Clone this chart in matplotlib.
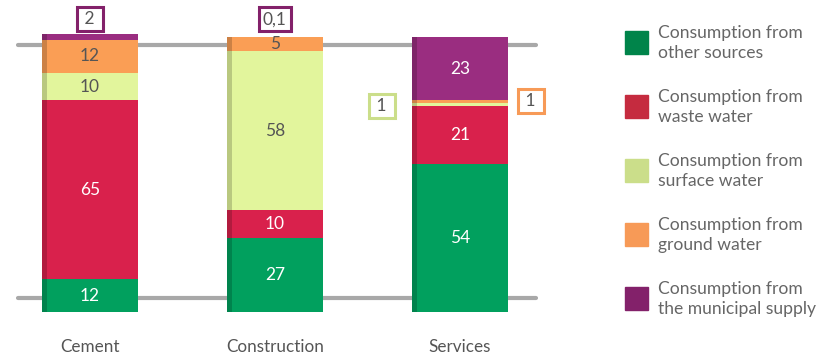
import matplotlib.pyplot as plt

plt.rcParams['font.family'] = ['Lato', 'DejaVu Sans']

sectores = ['Cement', 'Construction', 'Services']
otras = [12, 27, 54]
residual = [65, 10, 21]
superficial = [10, 58, 1]
subterranea = [12, 5, 1]
municipal = [2, 0.1, 23]

series = [otras, residual, superficial, subterranea, municipal]
colores_barra = ['#01A05E', '#D9214C', '#E2F59C', '#FA9E55', '#9A2D80']
colores_leyenda = ['#00844A', '#C52B3F', '#CBDE8A', '#F79A57', '#83216A']
color_texto = ['white', 'white', '#555555', '#555555', 'white']
leyenda = ['Consumption from\nother sources', 'Consumption from\nwaste water',
           'Consumption from\nsurface water', 'Consumption from\nground water',
           'Consumption from\nthe municipal supply']

fig = plt.figure(figsize=(8.29, 3.56), dpi=100)
ax = fig.add_axes([0, 0, 600 / 829, 1])
ax.set_xlim(-0.486, 2.757)
ax.set_ylim(-16, 113.5)
ax.axis('off')

# lineas grises tipo suelo/techo
for yy in [5, 97]:
    ax.plot([-0.39, 2.41], [yy, yy], color='#A8A8A8', lw=3, zorder=0,
            solid_capstyle='round')

x = range(len(sectores))
base = [0, 0, 0]
for i, s in enumerate(series):
    ax.bar(x, s, bottom=base, width=0.52, color=colores_barra[i],
           edgecolor='none', zorder=2)
    for j, v in enumerate(s):
        if v >= 5:
            ax.text(j, base[j] + v / 2, str(v), ha='center', va='center',
                    fontsize=12.5, color=color_texto[i], zorder=3)
    base = [b + v for b, v in zip(base, s)]

# sombra lateral izquierda
for j in x:
    ax.bar(j - 0.245, base[j], width=0.03, color='black', alpha=0.18,
           edgecolor='none', zorder=2.5)

# cajas para valores pequenos
cajas = [(0, 106.5, ' 2 ', '#83216A'), (1, 106.5, '0,1', '#83216A'),
         (1.578, 75, ' 1 ', '#CBDE8A'), (2.384, 76.7, ' 1 ', '#F79A57')]
for xx, yy, t, c in cajas:
    ax.text(xx, yy, t, ha='center', va='center', fontsize=12.5, color='#555555',
            bbox=dict(boxstyle='square,pad=0.22', fc='white', ec=c, lw=2.2),
            zorder=4)

for j, nombre in enumerate(sectores):
    ax.text(j, -12.6, nombre, ha='center', va='center', fontsize=12.3,
            color='#555555')

# leyenda
for k in range(5):
    ypx = 42 + 64 * k
    fig.patches.append(plt.Rectangle((625 / 829, 1 - (ypx + 11.5) / 356),
                                     23 / 829, 23 / 356, color=colores_leyenda[k],
                                     transform=fig.transFigure, figure=fig))
    fig.text(658 / 829, 1 - (ypx + 1) / 356, leyenda[k], ha='left', va='center',
             fontsize=12.6, color='#666666', linespacing=1.35)

fig.savefig('out.png', dpi=100)
